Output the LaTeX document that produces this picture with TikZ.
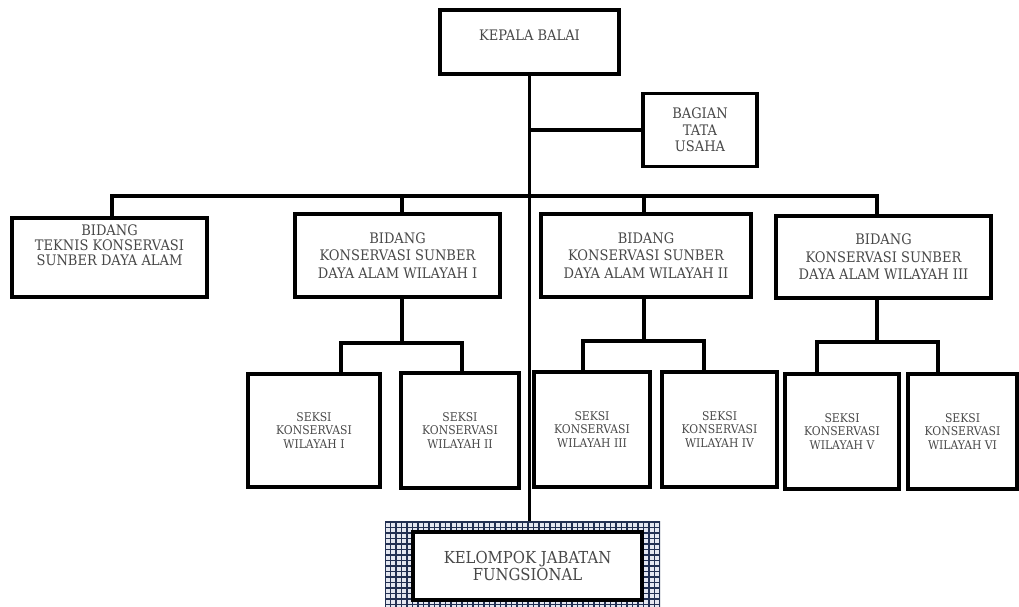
\documentclass[tikz,border=0pt]{standalone}
\usepackage{fontspec}
\setmainfont{DejaVu Serif}[FakeStretch=0.9]
\definecolor{txt}{HTML}{484848}
\definecolor{navy}{HTML}{223052}
\definecolor{cell}{HTML}{E4E7F0}
\begin{document}
\begin{tikzpicture}[x=1pt,y=-1pt]
\tikzset{
 box/.style={draw=black, line width=3.5pt, fill=white, inner sep=0pt, align=center, text=txt},
 big/.style={font=\fontsize{14.5}{17.5}\selectfont},
 small/.style={font=\fontsize{12}{13.5}\selectfont},
 conn/.style={line width=3.5pt, line join=miter},
 lbl/.style={align=center, text=txt, inner sep=0pt},
 seksi/.style={box, small, minimum height=115pt},
}
\useasboundingbox (0,0) rectangle (1019,607);
% Kepala Balai
\node[box, minimum width=179pt, minimum height=64pt] (kb) at (529.5,42) {};
\node[lbl, big, anchor=base] (kbt) at (529.5,40.5) {KEPALA BALAI};
% Bagian Tata Usaha
\node[box, big, font=\fontsize{14.5}{16.5}\selectfont, minimum width=114pt, minimum height=73pt] (bg) at (700,130) {BAGIAN\\TATA\\USAHA};
% Bidang
\node[box, minimum width=195pt, minimum height=79pt] (tk) at (109.5,257.5) {};
\node[lbl, font=\fontsize{14.5}{15}\selectfont] (tkt) at (109.5,245) {BIDANG\\TEKNIS KONSERVASI\\SUNBER DAYA ALAM};
\node[box, big, minimum width=205pt, minimum height=83pt] (b1) at (397.5,255.5) {BIDANG\\KONSERVASI SUNBER\\DAYA ALAM WILAYAH I};
\node[box, big, minimum width=210pt, minimum height=83pt] (b2) at (646,255.5) {BIDANG\\KONSERVASI SUNBER\\DAYA ALAM WILAYAH II};
\node[box, big, minimum width=215pt, minimum height=82pt] (b3) at (883.5,257) {BIDANG\\KONSERVASI SUNBER\\DAYA ALAM WILAYAH III};
% Seksi
\node[seksi, minimum width=132pt, minimum height=113pt] (s1) at (314,430.5) {SEKSI\\KONSERVASI\\WILAYAH I};
\node[seksi, minimum width=118pt] (s2) at (460,430.5) {SEKSI\\KONSERVASI\\WILAYAH II};
\node[seksi, minimum width=116pt] (s3) at (592,429.5) {SEKSI\\KONSERVASI\\WILAYAH III};
\node[seksi, minimum width=115pt] (s4) at (719.5,429.5) {SEKSI\\KONSERVASI\\WILAYAH IV};
\node[seksi, minimum width=114pt] (s5) at (842,431.5) {SEKSI\\KONSERVASI\\WILAYAH V};
\node[seksi, minimum width=109pt] (s6) at (962.5,431.5) {SEKSI\\KONSERVASI\\WILAYAH VI};
% Kelompok Jabatan Fungsional
\node[fill=cell, inner sep=0pt, minimum width=275pt, minimum height=90pt,
  path picture={\draw[navy, line width=1.7pt, step=5.5pt] ([shift={(-8pt,-8pt)}]path picture bounding box.south west) grid ([shift={(8pt,8pt)}]path picture bounding box.north east);}] (kfp) at (522.5,566) {};
\node[box, font=\fontsize{16.5}{17}\selectfont, minimum width=229pt, minimum height=68pt] (kf) at (527.5,566) {KELOMPOK JABATAN\\FUNGSIONAL};
% connectors
\coordinate (d0) at (112,196);
\coordinate (d1) at (402,196);
\coordinate (d2) at (644,196);
\coordinate (d3) at (877,196);
\draw[conn] (d0 |- tk.north) -- (d0) -- (d3) -- (d3 |- b3.north);
\draw[conn] (d1) -- (d1 |- b1.north);
\draw[conn] (d2) -- (d2 |- b2.north);
\draw[conn] (kb.south) -- (kb.south |- kfp.north);
\draw[conn] (kb.south |- bg.west) -- (bg.west);
\coordinate (j1) at (402,343);
\coordinate (j1a) at (341,343);
\coordinate (j1b) at (462,343);
\coordinate (j2) at (644,341);
\coordinate (j2a) at (583,341);
\coordinate (j2b) at (704,341);
\coordinate (j3) at (877,342);
\coordinate (j3a) at (817,342);
\coordinate (j3b) at (938,342);
\draw[conn] (j1 |- b1.south) -- (j1);
\draw[conn] (j1a |- s1.north) -- (j1a) -- (j1b) -- (j1b |- s2.north);
\draw[conn] (j2 |- b2.south) -- (j2);
\draw[conn] (j2a |- s3.north) -- (j2a) -- (j2b) -- (j2b |- s4.north);
\draw[conn] (j3 |- b3.south) -- (j3);
\draw[conn] (j3a |- s5.north) -- (j3a) -- (j3b) -- (j3b |- s6.north);
\end{tikzpicture}
\end{document}
